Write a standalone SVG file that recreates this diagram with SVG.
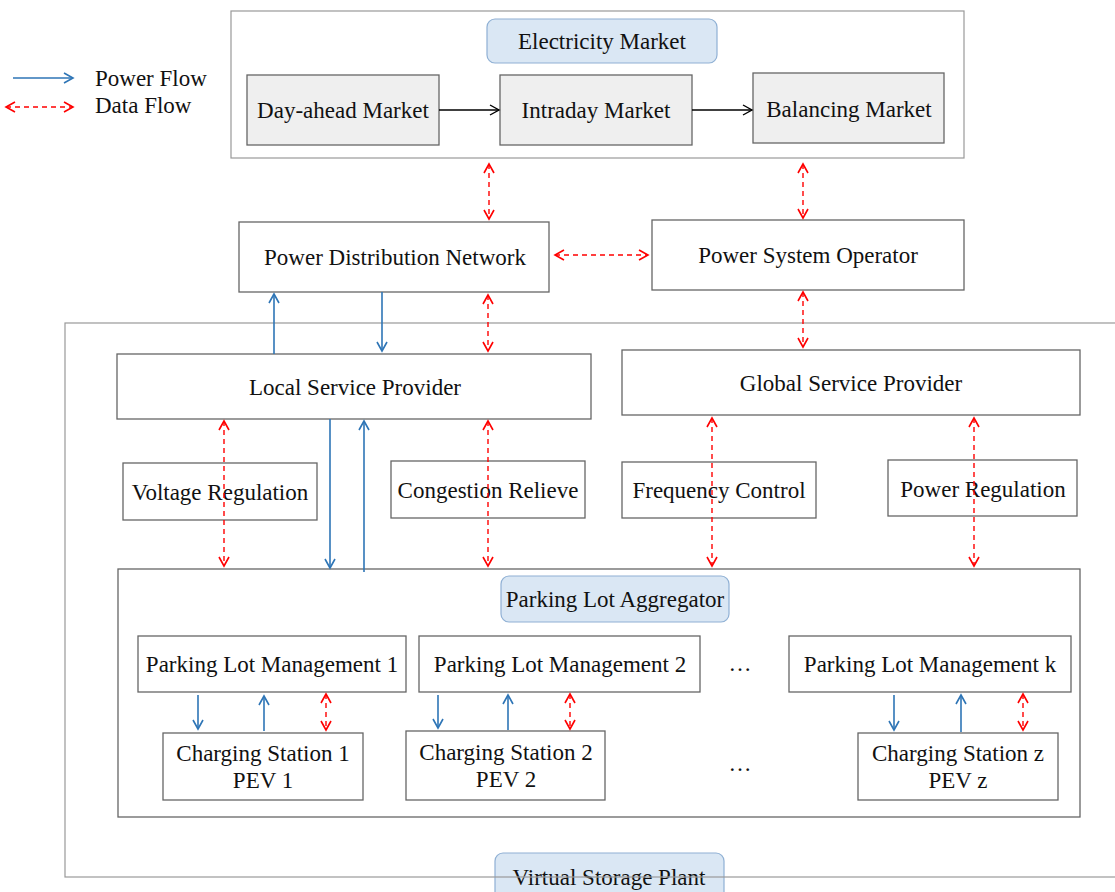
<svg xmlns="http://www.w3.org/2000/svg" width="1115" height="892" viewBox="0 0 1115 892">
<style>
text{font-family:"Liberation Serif","Times New Roman",serif;font-size:23px;fill:#111;text-anchor:middle}
.box{fill:#fff;stroke:#666;stroke-width:1.3}
.gbox{fill:#efefef;stroke:#666;stroke-width:1.3}
.outer{fill:none;stroke:#999;stroke-width:1.2}
.lbl{fill:#dae7f4;stroke:#8fb0d4;stroke-width:1.2}
.pwd{stroke:#2e75b6;stroke-width:1.6;fill:none;marker-end:url(#bE)}
.df{stroke:#ff0000;stroke-width:1.4;fill:none;stroke-dasharray:5,4;marker-start:url(#rS);marker-end:url(#rE)}
.bk{stroke:#000;stroke-width:1.3;fill:none;marker-end:url(#kE)}
</style>
<defs>
<marker id="bE" markerWidth="12" markerHeight="12" refX="10" refY="6" orient="auto" markerUnits="userSpaceOnUse"><path d="M1,1 L10,6 L1,11" fill="none" stroke="#2e75b6" stroke-width="1.6"/></marker>
<marker id="rE" markerWidth="12" markerHeight="12" refX="10" refY="6" orient="auto" markerUnits="userSpaceOnUse"><path d="M1,1 L10,6 L1,11" fill="none" stroke="#ff0000" stroke-width="1.6"/></marker>
<marker id="rS" markerWidth="12" markerHeight="12" refX="2" refY="6" orient="auto" markerUnits="userSpaceOnUse"><path d="M11,1 L2,6 L11,11" fill="none" stroke="#ff0000" stroke-width="1.6"/></marker>
<marker id="kE" markerWidth="12" markerHeight="12" refX="10" refY="6" orient="auto" markerUnits="userSpaceOnUse"><path d="M1,1 L10,6 L1,11" fill="none" stroke="#000" stroke-width="1.4"/></marker>
</defs>

<g id="legend">
<line class="pwd" x1="13" y1="78" x2="73" y2="78"/>
<line class="df" x1="6" y1="107" x2="73" y2="107"/>
<text x="95" y="86" style="text-anchor:start">Power Flow</text>
<text x="95" y="113" style="text-anchor:start">Data Flow</text>
</g>

<g id="electricity-market">
<rect class="outer" x="231" y="11" width="733" height="147"/>
<rect class="lbl" x="487" y="19" width="230" height="44" rx="8"/>
<text x="602" y="49">Electricity Market</text>
</g>
<g id="day-ahead"><rect class="gbox" x="247" y="75" width="192" height="70"/><text x="343" y="118">Day-ahead Market</text></g>
<g id="intraday"><rect class="gbox" x="500" y="75" width="192" height="70"/><text x="596" y="118">Intraday Market</text></g>
<g id="balancing"><rect class="gbox" x="753" y="73" width="191" height="70"/><text x="849" y="117">Balancing Market</text></g>

<g id="pdn"><rect class="box" x="239" y="222" width="310" height="70"/><text x="395" y="265">Power Distribution Network</text></g>
<g id="pso"><rect class="box" x="652" y="220" width="312" height="70"/><text x="808" y="263">Power System Operator</text></g>

<g id="vsp">
<rect class="lbl" x="495" y="853" width="229" height="50" rx="8"/>
<text x="609" y="885">Virtual Storage Plant</text>
<rect class="outer" x="65" y="323" width="1060" height="554"/>
</g>

<g id="lsp"><rect class="box" x="117" y="354" width="474" height="65"/><text x="355" y="395">Local Service Provider</text></g>
<g id="gsp"><rect class="box" x="622" y="350" width="458" height="65"/><text x="851" y="391">Global Service Provider</text></g>

<g id="voltage"><rect class="box" x="123" y="463" width="194" height="57"/><text x="220" y="500">Voltage Regulation</text></g>
<g id="congestion"><rect class="box" x="391" y="461" width="194" height="57"/><text x="488" y="498">Congestion Relieve</text></g>
<g id="frequency"><rect class="box" x="622" y="462" width="194" height="56"/><text x="719" y="498">Frequency Control</text></g>
<g id="power-regulation"><rect class="box" x="888" y="460" width="189" height="56"/><text x="983" y="497">Power Regulation</text></g>

<g id="pla">
<rect class="box" x="118" y="569" width="962" height="248" style="fill:none"/>
<rect class="lbl" x="501" y="576" width="228" height="46" rx="8"/>
<text x="615" y="607">Parking Lot Aggregator</text>
</g>
<g id="plm1"><rect class="box" x="138" y="636" width="268" height="56"/><text x="272" y="672">Parking Lot Management 1</text></g>
<g id="plm2"><rect class="box" x="419" y="636" width="281" height="56"/><text x="560" y="672">Parking Lot Management 2</text></g>
<g id="plmk"><rect class="box" x="789" y="636" width="282" height="56"/><text x="930" y="672">Parking Lot Management k</text></g>
<g id="dots1"><text x="740" y="671">…</text></g>
<g id="cs1"><rect class="box" x="163" y="733" width="200" height="67"/><text x="263" y="761">Charging Station 1</text><text x="263" y="788">PEV 1</text></g>
<g id="cs2"><rect class="box" x="406" y="731" width="199" height="69"/><text x="506" y="760">Charging Station 2</text><text x="506" y="787">PEV 2</text></g>
<g id="csz"><rect class="box" x="858" y="733" width="200" height="67"/><text x="958" y="761">Charging Station z</text><text x="958" y="788">PEV z</text></g>
<g id="dots2"><text x="740" y="771">…</text></g>

<g id="connectors">
<line class="bk" x1="439" y1="110" x2="499" y2="110"/>
<line class="bk" x1="692" y1="110" x2="752" y2="110"/>
<line class="df" x1="489" y1="164" x2="489" y2="219"/>
<line class="df" x1="803" y1="164" x2="803" y2="218"/>
<line class="df" x1="555" y1="255" x2="648" y2="255"/>
<line class="pwd" x1="274" y1="354" x2="274" y2="294"/>
<line class="pwd" x1="382" y1="292" x2="382" y2="351"/>
<line class="df" x1="488" y1="295" x2="488" y2="351"/>
<line class="df" x1="803" y1="292" x2="803" y2="347"/>
<line class="df" x1="224" y1="421" x2="224" y2="566"/>
<line class="df" x1="488" y1="421" x2="488" y2="566"/>
<line class="df" x1="712" y1="418" x2="712" y2="566"/>
<line class="df" x1="974" y1="418" x2="974" y2="566"/>
<line class="pwd" x1="330" y1="419" x2="330" y2="568"/>
<line class="pwd" x1="364" y1="572" x2="364" y2="421"/>
<line class="pwd" x1="198" y1="695" x2="198" y2="729"/>
<line class="pwd" x1="264" y1="731" x2="264" y2="696"/>
<line class="df" x1="326" y1="694" x2="326" y2="730"/>
<line class="pwd" x1="438" y1="695" x2="438" y2="728"/>
<line class="pwd" x1="508" y1="730" x2="508" y2="695"/>
<line class="df" x1="570" y1="694" x2="570" y2="729"/>
<line class="pwd" x1="894" y1="695" x2="894" y2="730"/>
<line class="pwd" x1="961" y1="732" x2="961" y2="695"/>
<line class="df" x1="1023" y1="694" x2="1023" y2="730"/>
</g>
</svg>
